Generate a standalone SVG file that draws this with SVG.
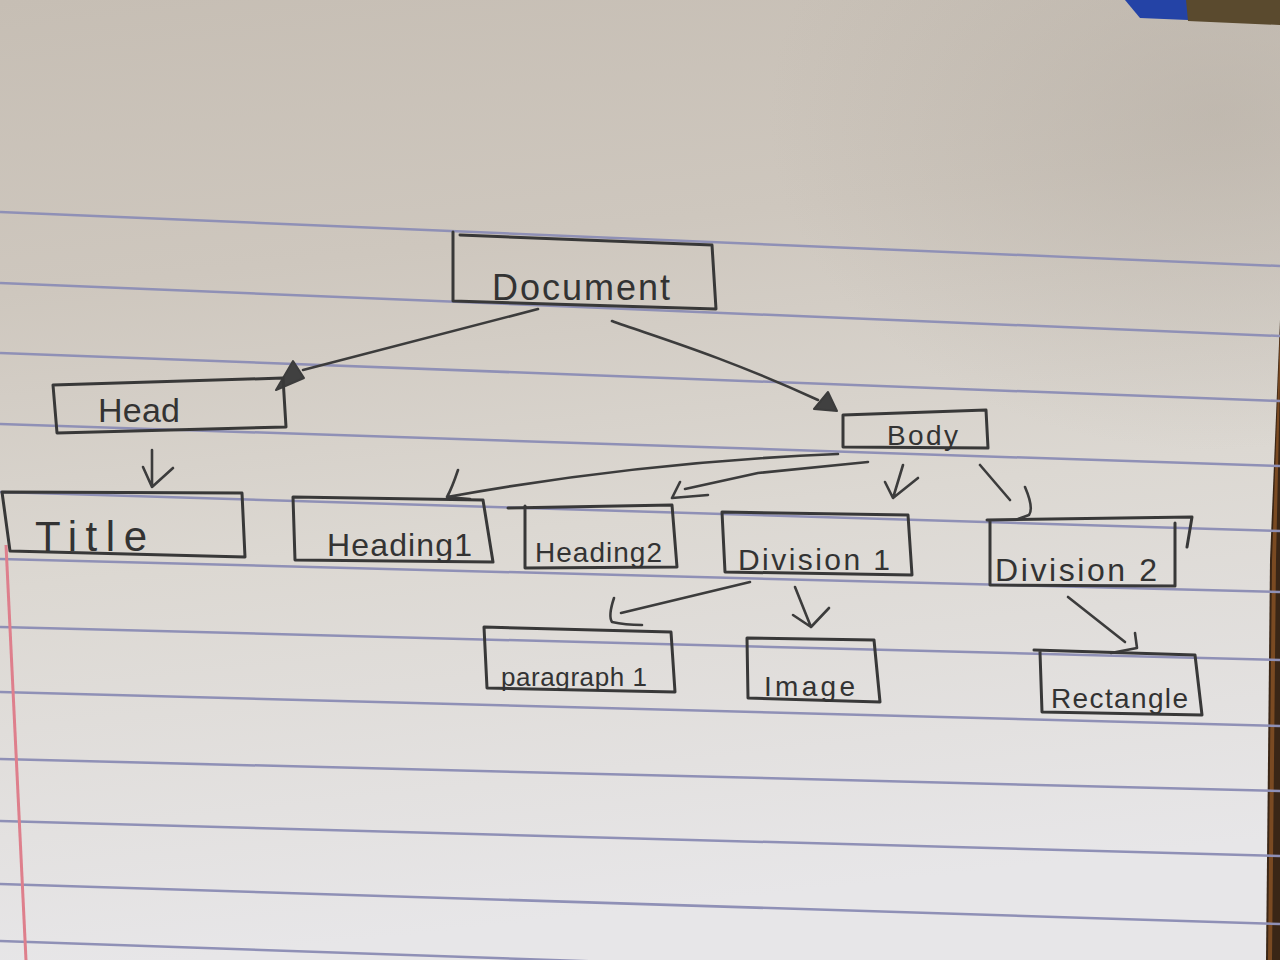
<svg xmlns="http://www.w3.org/2000/svg" width="1280" height="960" viewBox="0 0 1280 960">
  <defs>
    <linearGradient id="paper" x1="0" y1="0" x2="0.15" y2="1">
      <stop offset="0" stop-color="#c6beb4"/>
      <stop offset="0.3" stop-color="#cec7be"/>
      <stop offset="0.6" stop-color="#dcd8d2"/>
      <stop offset="1" stop-color="#e7e6e8"/>
    </linearGradient>
    <radialGradient id="shade" cx="0.95" cy="0.12" r="0.35">
      <stop offset="0" stop-color="#b3aba1" stop-opacity="0.5"/>
      <stop offset="1" stop-color="#b3aba1" stop-opacity="0"/>
    </radialGradient>
    <style>
      .rule { stroke: #8f90b6; stroke-width: 2.5; fill: none; }
      .box { fill: none; stroke: #383838; stroke-width: 3; stroke-linejoin: round; stroke-linecap: round; }
      .edge { fill: none; stroke: #3c3c3c; stroke-width: 2.6; stroke-linecap: round; stroke-linejoin: round; }
      .tri { fill: #404040; stroke: #3c3c3c; stroke-width: 2; stroke-linejoin: round; }
      .lbl { font-family: "Liberation Sans", Arial, sans-serif; fill: #333333; }
    </style>
  </defs>

  <!-- paper -->
  <rect x="0" y="0" width="1280" height="960" fill="url(#paper)"/>
  <rect x="0" y="0" width="1280" height="960" fill="url(#shade)"/>
  <!-- top right objects -->
  <polygon points="1125,0 1190,0 1188,20 1140,18" fill="#2443a6"/>
  <polygon points="1186,0 1280,0 1280,25 1188,21" fill="#5a4a2e"/>
  <!-- right dark edge -->
  <polygon points="1280,320 1270,560 1266,960 1280,960" fill="#3a2616"/>
  <polygon points="1280,330 1272,560 1268,960 1272,960 1276,560 1280,380" fill="#7a4a22"/>

  <!-- ruled lines -->
  <g id="rules">
    <line class="rule" x1="0" y1="212" x2="1280" y2="266"/>
    <line class="rule" x1="0" y1="283" x2="1280" y2="336"/>
    <line class="rule" x1="0" y1="353" x2="1280" y2="401"/>
    <line class="rule" x1="0" y1="424" x2="1280" y2="466"/>
    <line class="rule" x1="0" y1="492" x2="1280" y2="531"/>
    <line class="rule" x1="0" y1="559" x2="1280" y2="592"/>
    <line class="rule" x1="0" y1="627" x2="1280" y2="660"/>
    <line class="rule" x1="0" y1="692" x2="1280" y2="726"/>
    <line class="rule" x1="0" y1="759" x2="1280" y2="791"/>
    <line class="rule" x1="0" y1="821" x2="1280" y2="856"/>
    <line class="rule" x1="0" y1="884" x2="1280" y2="924"/>
    <line class="rule" x1="0" y1="941" x2="1280" y2="985"/>
    <path d="M6,545 Q15,750 26,960" stroke="#de7f8c" stroke-width="3" fill="none"/>
  </g>

  <!-- connectors -->
  <g id="connectors">
    <path class="edge" d="M538,309 L303,370"/>
    <polygon class="tri" points="293,361 304,378 276,390"/>

    <path class="edge" d="M612,321 C650,335 720,355 818,400"/>
    <polygon class="tri" points="828,392 837,411 814,409"/>

    <path class="edge" d="M152,450 L152,487 M143,467 L152,487 L173,468"/>

    <path class="edge" d="M838,454 Q640,462 447,497 M458,470 Q452,488 447,497 L470,499"/>

    <path class="edge" d="M868,462 L758,473 L685,489 M680,482 L672,498 L708,495"/>

    <path class="edge" d="M903,465 L893,498 M885,482 L893,498 L918,478"/>

    <path class="edge" d="M980,465 L1010,500 M1025,487 Q1034,508 1029,515 L1018,519"/>

    <path class="edge" d="M750,582 L621,613 M614,598 Q608,616 612,622 Q625,625 642,625"/>

    <path class="edge" d="M795,587 L811,627 M793,615 L811,627 L829,608"/>

    <path class="edge" d="M1068,597 L1125,642 M1135,633 L1137,648 L1111,653"/>
  </g>

  <!-- nodes -->
  <g id="document">
    <path class="box" d="M460,235 L712,245 M453,232 L453,301 L716,309 L712,245"/>
    <text class="lbl" x="492" y="300" font-size="36" textLength="178" lengthAdjust="spacing">Document</text>
  </g>
  <g id="head">
    <path class="box" d="M53,385 L283,378 L286,427 L57,433 Z"/>
    <text class="lbl" x="98" y="422" font-size="34" textLength="82" lengthAdjust="spacing">Head</text>
  </g>
  <g id="body">
    <path class="box" d="M843,415 L986,410 L988,448 L843,447 Z"/>
    <text class="lbl" x="887" y="445" font-size="28" textLength="71" lengthAdjust="spacing">Body</text>
  </g>
  <g id="title">
    <path class="box" d="M2,492 L242,493 L245,557 L10,551 Z"/>
    <text class="lbl" x="35" y="551" font-size="42" textLength="112" lengthAdjust="spacing">Title</text>
  </g>
  <g id="heading1">
    <path class="box" d="M293,497 L483,500 L493,562 L295,560 Z"/>
    <text class="lbl" x="327" y="556" font-size="32" textLength="145" lengthAdjust="spacing">Heading1</text>
  </g>
  <g id="heading2">
    <path class="box" d="M508,508 L672,505 L677,567 L525,568 L525,506"/>
    <text class="lbl" x="535" y="562" font-size="28" textLength="127" lengthAdjust="spacing">Heading2</text>
  </g>
  <g id="division1">
    <path class="box" d="M722,512 L908,515 L912,575 L725,572 Z"/>
    <text class="lbl" x="738" y="570" font-size="30" textLength="152" lengthAdjust="spacing">Division 1</text>
  </g>
  <g id="division2">
    <path class="box" d="M987,520 L1192,517 L1187,547 M1175,523 L1175,586 L990,585 L990,520"/>
    <text class="lbl" x="995" y="581" font-size="32" textLength="162" lengthAdjust="spacing">Division 2</text>
  </g>
  <g id="paragraph1">
    <path class="box" d="M484,627 L671,632 L675,692 L487,688 Z"/>
    <text class="lbl" x="501" y="686" font-size="26" textLength="146" lengthAdjust="spacing">paragraph 1</text>
  </g>
  <g id="image">
    <path class="box" d="M747,638 L874,640 L880,702 L748,698 Z"/>
    <text class="lbl" x="764" y="696" font-size="28" textLength="91" lengthAdjust="spacing">Image</text>
  </g>
  <g id="rectangle">
    <path class="box" d="M1034,650 L1195,655 L1202,715 L1042,712 L1040,652"/>
    <text class="lbl" x="1051" y="708" font-size="28" textLength="137" lengthAdjust="spacing">Rectangle</text>
  </g>
</svg>
